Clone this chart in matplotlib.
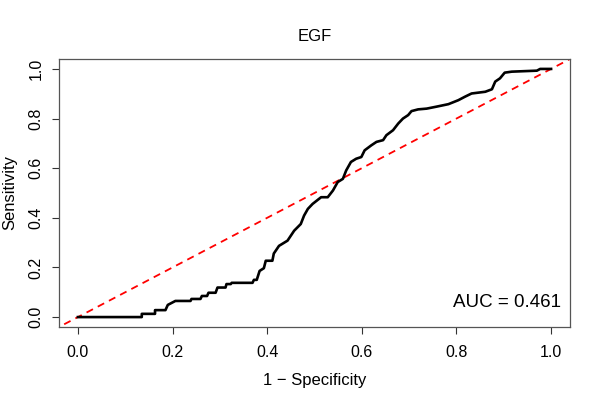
import matplotlib.pyplot as plt
import numpy as np

plt.rcParams['font.family'] = ['Liberation Sans', 'DejaVu Sans']

# ROC curve vertices (1 - specificity, sensitivity)
fpr = [0, 0.135, 0.135, 0.163, 0.163, 0.185, 0.19, 0.206, 0.238, 0.24, 0.259,
       0.262, 0.273, 0.276, 0.291, 0.295, 0.312, 0.314, 0.323, 0.325, 0.369,
       0.372, 0.378, 0.384, 0.393, 0.397, 0.411, 0.414, 0.425, 0.443, 0.457,
       0.471, 0.478, 0.486, 0.496, 0.514, 0.528, 0.539, 0.549, 0.56, 0.567,
       0.577, 0.588, 0.599, 0.606, 0.62, 0.631, 0.645, 0.652, 0.666, 0.677,
       0.687, 0.698, 0.705, 0.719, 0.737, 0.758, 0.783, 0.804, 0.818, 0.832,
       0.861, 0.875, 0.882, 0.892, 0.902, 0.917, 0.970, 0.977, 1.0]
tpr = [0, 0, 0.013, 0.013, 0.028, 0.028, 0.049, 0.065, 0.065, 0.073, 0.073,
       0.085, 0.085, 0.098, 0.098, 0.119, 0.119, 0.133, 0.133, 0.138, 0.138,
       0.15, 0.15, 0.186, 0.197, 0.227, 0.227, 0.256, 0.287, 0.308, 0.348,
       0.375, 0.409, 0.436, 0.456, 0.483, 0.483, 0.51, 0.544, 0.557, 0.591,
       0.625, 0.638, 0.645, 0.672, 0.692, 0.706, 0.713, 0.733, 0.753, 0.78,
       0.8, 0.814, 0.83, 0.837, 0.84, 0.848, 0.858, 0.874, 0.888, 0.901,
       0.908, 0.918, 0.949, 0.962, 0.985, 0.989, 0.993, 1.0, 1.0]
ticks = [0.0, 0.2, 0.4, 0.6, 0.8, 1.0]
tick_labels = ['0.0', '0.2', '0.4', '0.6', '0.8', '1.0']
auc = 0.461

fig = plt.figure(figsize=(6, 4), dpi=100)
ax = fig.add_axes([0.0983, 0.1825, 0.8517, 0.67])

ax.plot([-0.1, 1.1], [-0.1, 1.1], color='#ff0000', lw=1.3, ls=(0, (4, 3)))
ax.plot(fpr, tpr, color='black', lw=1.9)

ax.set_xlim(-0.04, 1.04)
ax.set_ylim(-0.04, 1.04)
ax.set_xticks(ticks)
ax.set_xticklabels(tick_labels)
ax.set_yticks(ticks)
ax.set_yticklabels(tick_labels, rotation=90, va='center')
ax.tick_params(direction='out', length=5, width=0.8, labelsize=11.5, colors='#333333',
               labelcolor='black')
ax.tick_params(axis='x', pad=8)
ax.tick_params(axis='y', pad=6)
for s in ax.spines.values():
    s.set_color('#555555')
    s.set_linewidth(0.9)

ax.set_xlabel('1 \u2212 Specificity', fontsize=12, labelpad=9)
ax.set_ylabel('Sensitivity', fontsize=12, labelpad=8)
ax.set_title('EGF', fontsize=12, pad=13)

ax.text(1.02, 0.057, 'AUC = %.3f' % auc, ha='right', va='center', fontsize=13.5)

fig.savefig('out.png', dpi=100)
